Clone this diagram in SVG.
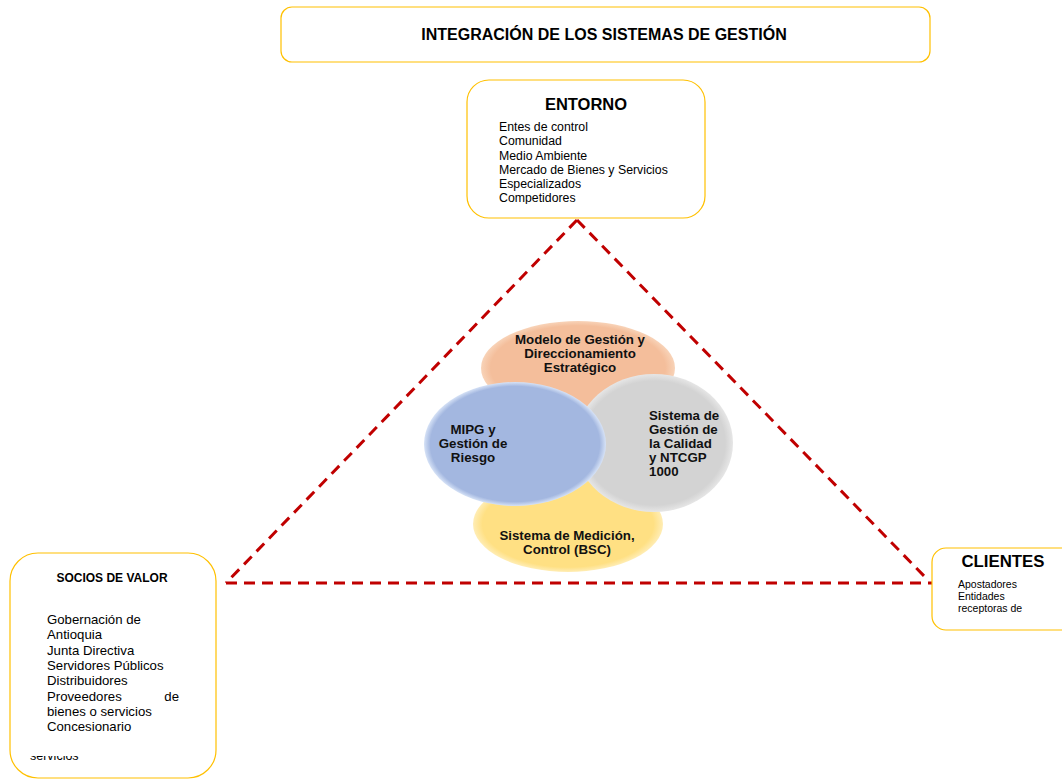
<svg xmlns="http://www.w3.org/2000/svg" width="1062" height="780" viewBox="0 0 1062 780">
<style>
.box{fill:#fff;stroke:#FFC000;stroke-width:1.2}
.t{font-family:"Liberation Sans",Arial,sans-serif;fill:#000}
.b{font-weight:bold}
.dash{stroke:#C00000;stroke-width:3;stroke-dasharray:11 7;fill:none}
.el{font-family:"Liberation Sans",Arial,sans-serif;font-weight:bold;font-size:13.3px;fill:#111}
</style>
<defs>
<radialGradient id="gO" cx="50%" cy="50%" r="50%"><stop offset="0.9" stop-color="#F4BE9B"/><stop offset="1" stop-color="#F8D3B8"/></radialGradient>
<radialGradient id="gG" cx="50%" cy="50%" r="50%"><stop offset="0.9" stop-color="#D3D3D3"/><stop offset="1" stop-color="#E6E6E6"/></radialGradient>
<radialGradient id="gB" cx="50%" cy="50%" r="50%"><stop offset="0.93" stop-color="#A3B7E0"/><stop offset="1" stop-color="#D6E2F6"/></radialGradient>
<radialGradient id="gY" cx="50%" cy="50%" r="50%"><stop offset="0.9" stop-color="#FFE083"/><stop offset="1" stop-color="#FFEDB5"/></radialGradient>
<clipPath id="cE"><rect x="467" y="80" width="238" height="124"/></clipPath>
<clipPath id="cS"><rect x="0" y="756" width="220" height="10"/></clipPath>
</defs>

<g id="title">
<rect class="box" x="281" y="7" width="649" height="55" rx="11"/>
<text class="t b" x="604" y="40" font-size="16" text-anchor="middle">INTEGRACIÓN DE LOS SISTEMAS DE GESTIÓN</text>
</g>

<g id="connectors">
<line class="dash" x1="577" y1="220" x2="226" y2="583"/>
<line class="dash" x1="577" y1="220" x2="928" y2="580"/>
<line class="dash" x1="226" y1="583" x2="932" y2="583"/>
</g>

<g id="entorno">
<rect class="box" x="467" y="80" width="238" height="138" rx="22"/>
<text class="t b" x="586" y="110" font-size="16.5" text-anchor="middle">ENTORNO</text>
<g clip-path="url(#cE)" class="t" font-size="12.3">
<text x="499" y="131">Entes de control</text>
<text x="499" y="145">Comunidad</text>
<text x="499" y="160">Medio Ambiente</text>
<text x="499" y="174">Mercado de Bienes y Servicios</text>
<text x="499" y="188">Especializados</text>
<text x="499" y="202">Competidores</text>
</g>
</g>

<g id="modelo">
<ellipse cx="578" cy="368" rx="97" ry="47" fill="url(#gO)"/>
<text class="el" text-anchor="middle"><tspan x="580" y="344">Modelo de Gestión y</tspan><tspan x="580" y="358">Direccionamiento</tspan><tspan x="580" y="372">Estratégico</tspan></text>
</g>

<g id="medicion">
<ellipse cx="568" cy="524" rx="95" ry="48" fill="url(#gY)"/>
<text class="el" text-anchor="middle"><tspan x="567" y="540">Sistema de Medición,</tspan><tspan x="567" y="554">Control (BSC)</tspan></text>
</g>

<g id="calidad">
<ellipse cx="654" cy="443" rx="79" ry="69" fill="url(#gG)"/>
<text class="el"><tspan x="649" y="420">Sistema de</tspan><tspan x="649" y="434">Gestión de</tspan><tspan x="649" y="448">la Calidad</tspan><tspan x="649" y="462">y NTCGP</tspan><tspan x="649" y="476">1000</tspan></text>
</g>

<g id="mipg">
<ellipse cx="515" cy="444" rx="91" ry="62" fill="url(#gB)"/>
<text class="el" text-anchor="middle"><tspan x="473" y="434">MIPG y</tspan><tspan x="473" y="448">Gestión de</tspan><tspan x="473" y="462">Riesgo</tspan></text>
</g>

<g id="socios">
<rect class="box" x="10" y="553" width="206" height="225" rx="28"/>
<text class="t b" x="112" y="582" font-size="12" text-anchor="middle">SOCIOS DE VALOR</text>
<g class="t" font-size="13.2">
<text x="47" y="624">Gobernación de</text>
<text x="47" y="639">Antioquia</text>
<text x="47" y="655">Junta Directiva</text>
<text x="47" y="670">Servidores Públicos</text>
<text x="47" y="685">Distribuidores</text>
<text x="47" y="701">Proveedores</text>
<text x="179" y="701" text-anchor="end">de</text>
<text x="47" y="716">bienes o servicios</text>
<text x="47" y="731">Concesionario</text>
</g>
<text class="t" x="30" y="760" font-size="12.5" clip-path="url(#cS)">servicios</text>
</g>

<g id="clientes">
<rect class="box" x="932" y="548" width="150" height="82" rx="14"/>
<text class="t b" x="1003" y="567" font-size="16.8" text-anchor="middle">CLIENTES</text>
<g class="t" font-size="10.5">
<text x="958" y="588">Apostadores</text>
<text x="958" y="600">Entidades</text>
<text x="958" y="612">receptoras de</text>
</g>
</g>
</svg>
